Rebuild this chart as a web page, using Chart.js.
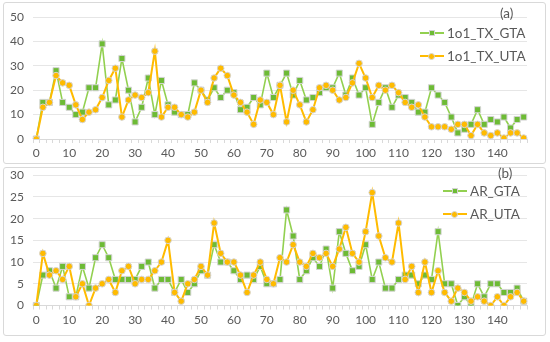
<!DOCTYPE html>
<html>
<head>
<meta charset="utf-8">
<script src="https://cdn.jsdelivr.net/npm/chart.js@4.4.1/dist/chart.umd.min.js"></script>
<style>
  html, body { margin: 0; padding: 0; background: #fff; }
  #wrap { position: relative; width: 550px; height: 342px; overflow: hidden; font-family: Lato, sans-serif; color: #595959; }
  .box { position: absolute; border: 1px solid #d9d9d9; border-radius: 3px; box-sizing: border-box; }
  canvas { position: absolute; left: 0; }
  .lab { position: absolute; font-size: 13.5px; line-height: 16px; white-space: nowrap; z-index: 3; }
  .leg { position: absolute; height: 16px; z-index: 3; white-space: nowrap; }
  .leg .ln { position: absolute; left: 0; top: 7px; width: 24px; height: 2px; }
  .leg .mk { position: absolute; box-sizing: border-box; border: 1px solid #d4d4d4; }
  .leg .mk.sq { left: 9px; top: 5px; width: 6px; height: 6px; }
  .leg .mk.ci { left: 8px; top: 4.5px; width: 7px; height: 7px; border-radius: 50%; }
  .leg .tx { position: absolute; left: 27px; top: 0; font-size: 13.5px; line-height: 16px; }
</style>
</head>
<body>
<div id="wrap">
  <div class="box" style="left:3px;top:2px;width:543px;height:162px;"></div>
  <div class="box" style="left:3px;top:167px;width:543px;height:169px;"></div>
  <canvas id="c1" width="550" height="165" style="top:0px;"></canvas>
  <canvas id="c2" width="550" height="183" style="top:159px;"></canvas>
  <div id="legA"></div>
  <div id="legB"></div>
</div>
<script>
// ---- data ----
const categories = [0,2,4,6,8,10,12,14,16,18,20,22,24,26,28,30,32,34,36,38,40,42,44,46,48,
  50,52,54,56,58,60,62,64,66,68,70,72,74,76,78,80,82,84,86,88,90,92,94,96,98,
  100,102,104,106,108,110,112,114,116,118,120,122,124,126,128,130,132,134,136,138,140,142,144,146,148];

const txGTA = [0,15,15,28,15,13,10,11,21,21,39,14,16,33,20,7,13,25,10,24,14,11,10,10,23,
  20,16,21,17,20,19,12,13,17,14,27,17,22,27,18,24,16,17,19,21,21,27,18,25,18,
  21,6,15,21,13,18,17,15,11,11,21,18,15,9,2.5,4,6,12,6,8,7,9,4.5,8,9];
const txUTA = [0,13,15,26,23,22,14,8,11,12,17,24,29,9,16,18,17,19,36,9,13,13,10,9,11,
  20,15,25,29,26,18,15,11,6,16,15,10,22,7,20,14,7,12,21,22,20,16,17,23,31,
  25,17,22,20,22,19,15,13,14,9,5,5,5,4,6,6,1.4,6,2.5,1.4,2.5,0.4,2.5,2.5,0.4];

const arGTA = [0,7,8,4,9,2,2,9,4,11,14,11,6,6,6,6,9,10,4,6,6,3,6,3,5,
  8,7,14,10,10,8,6,7,6,9,5,5,6,22,16,6,8,11,9,13,4,17,12,8,9,
  14,6,10,4,4,6,7,7,5,7,6,17,5,5,0,2,0,5,2,5,5,3,3,4,1];
const arUTA = [0,12,7,8,6,9,2,5,0,4,5,6,3,8,9,5,6,6,8,10,15,3,1,5,6,
  9,7,19,12,10,10,7,3,7,10,6,5,11,10,14,10,9,12,11,12,9,13,18,12,10,
  17,26,16,11,10,19,6,9,3,10,3,8,3,1,4,3,1,2,1,0,2,0,2,3,1];

const topTicks = { min: 0, max: 50, step: 10 };
const botTicks = { min: 0, max: 30, step: 5 };
const topNames = ['1o1_TX_GTA', '1o1_TX_UTA'];
const botNames = ['AR_GTA', 'AR_UTA'];

// ---- style ----
const GREEN_LINE = '#92d050';
const GREEN_PT = '#6dbb35';
const ORANGE = '#ffbb00';
const PT_BORDER = '#d4d4d4';
const TXT = '#595959';
const FONT = 'Lato';

function buildLegend(el, names, panelLabel, pos) {
  const wrap = document.getElementById('wrap');
  const lab = document.createElement('div');
  lab.className = 'lab';
  lab.style.left = pos.labelX + 'px';
  lab.style.top = (pos.labelY - 8) + 'px';
  lab.textContent = panelLabel;
  wrap.appendChild(lab);
  const items = [
    { name: names[0], color: GREEN_LINE, pt: GREEN_PT, cls: 'sq', y: pos.y1 },
    { name: names[1], color: ORANGE, pt: ORANGE, cls: 'ci', y: pos.y2 }
  ];
  items.forEach(it => {
    const d = document.createElement('div');
    d.className = 'leg';
    d.style.left = pos.x1 + 'px';
    d.style.top = (it.y - 8) + 'px';
    d.innerHTML = '<span class="ln" style="background:' + it.color + '"></span>' +
      '<span class="mk ' + it.cls + '" style="background:' + it.pt + '"></span>' +
      '<span class="tx"></span>';
    d.querySelector('.tx').textContent = it.name;
    wrap.appendChild(d);
  });
}

function makeChart(id, gta, uta, yt, names, padTop, xHeight) {
  return new Chart(document.getElementById(id), {
    type: 'line',
    data: {
      labels: categories.map(String),
      datasets: [
        {
          label: names[1], data: uta,
          borderColor: ORANGE, borderWidth: 2,
          pointStyle: 'circle', pointRadius: 3.3,
          pointBackgroundColor: ORANGE, pointBorderColor: PT_BORDER, pointBorderWidth: 1,
          tension: 0
        },
        {
          label: names[0], data: gta,
          borderColor: GREEN_LINE, borderWidth: 1.6,
          pointStyle: 'rect', pointRadius: 4.3,
          pointBackgroundColor: GREEN_PT, pointBorderColor: PT_BORDER, pointBorderWidth: 1,
          tension: 0
        }
      ]
    },
    options: {
      responsive: false,
      animation: false,
      events: [],
      layout: { padding: { left: 0, right: 23, top: padTop, bottom: 0 } },
      plugins: { legend: { display: false }, tooltip: { enabled: false } },
      scales: {
        x: {
          type: 'category',
          offset: true,
          grid: { display: true, drawOnChartArea: false, offset: true, tickLength: 4, color: '#d9d9d9' },
          border: { display: true, color: '#d9d9d9' },
          ticks: {
            autoSkip: false, maxRotation: 0, minRotation: 0, padding: 3,
            color: TXT, font: { family: FONT, size: 12 },
            callback: function (v, i) { return categories[i] % 10 === 0 ? String(categories[i]) : ''; }
          },
          afterFit(scale) { scale.height = xHeight; }
        },
        y: {
          min: yt.min, max: yt.max,
          grid: { color: '#e6e6e6', drawTicks: false },
          border: { display: false },
          ticks: { stepSize: yt.step, autoSkip: false, padding: 9, color: TXT, font: { family: FONT, size: 12 } },
          afterFit(scale) { scale.width = 33; }
        }
      }
    }
  });
}

makeChart('c1', txGTA, txUTA, topTicks, topNames, 17, 26);
makeChart('c2', arGTA, arUTA, botTicks, botNames, 16.2, 36.5);
buildLegend('legA', topNames, '(a)', { x1: 420, y1: 33, y2: 56, labelX: 500, labelY: 13 });
buildLegend('legB', botNames, '(b)', { x1: 443, y1: 191, y2: 214, labelX: 498, labelY: 173 });
</script>
</body>
</html>
